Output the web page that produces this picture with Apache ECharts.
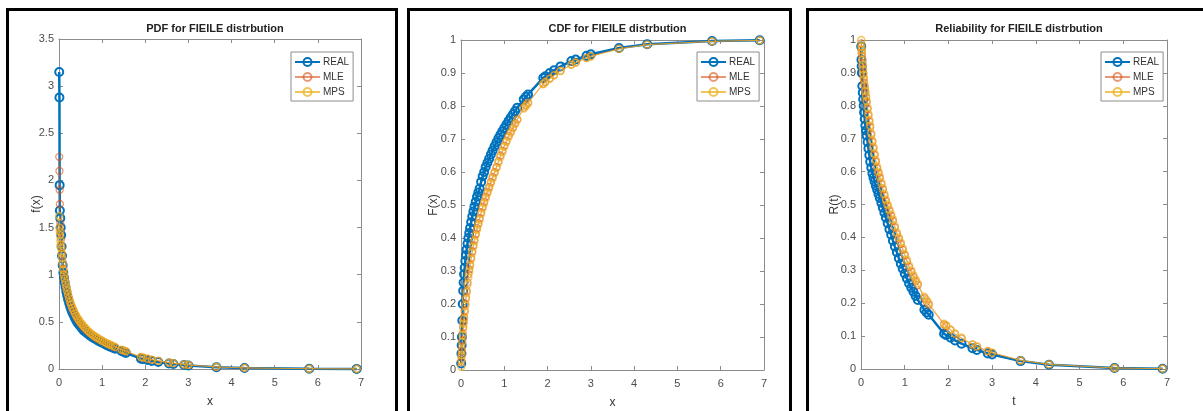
<!DOCTYPE html>
<html>
<head>
<meta charset="utf-8">
<script src="https://cdn.jsdelivr.net/npm/echarts@6/dist/echarts.min.js"></script>
<style>
html, body { margin: 0; padding: 0; background: #fff; }
#chart { width: 1203px; height: 411px; }
</style>
</head>
<body>
<div id="chart"></div>
<script>
// sample points (sorted), shared by all three panels
var xs = [0.005, 0.01, 0.015, 0.02, 0.03, 0.04, 0.05, 0.06, 0.07, 0.085,
  0.1, 0.115, 0.13, 0.15, 0.17, 0.19, 0.21, 0.235, 0.26, 0.285,
  0.31, 0.34, 0.37, 0.4, 0.43, 0.465, 0.5, 0.535, 0.57, 0.61,
  0.65, 0.69, 0.73, 0.775, 0.82, 0.865, 0.91, 0.955, 1.0, 1.05,
  1.1, 1.15, 1.2, 1.25, 1.3, 1.45, 1.5, 1.55, 1.9, 1.95,
  2.05, 2.15, 2.3, 2.55, 2.65, 2.9, 3.0, 3.65, 4.3, 5.8, 6.9];

// PDF
var pdfReal = [3.15, 2.88, 1.95, 1.68, 1.6, 1.5, 1.42, 1.3, 1.2, 1.1,
  1.02, 0.97, 0.92, 0.87, 0.82, 0.78, 0.74, 0.7, 0.66, 0.63,
  0.6, 0.57, 0.54, 0.515, 0.49, 0.47, 0.45, 0.43, 0.41, 0.395,
  0.38, 0.365, 0.35, 0.337, 0.325, 0.312, 0.3, 0.29, 0.28, 0.267,
  0.255, 0.245, 0.235, 0.225, 0.215, 0.19, 0.18, 0.17, 0.11, 0.105,
  0.095, 0.085, 0.075, 0.058, 0.053, 0.042, 0.037, 0.018, 0.01, 0.003, 0.001];
var pdfMle = [2.25, 2.1, 1.9, 1.75, 1.55, 1.46, 1.38, 1.3, 1.22, 1.13,
  1.06, 1.01, 0.96, 0.91, 0.86, 0.82, 0.78, 0.74, 0.7, 0.67,
  0.64, 0.61, 0.58, 0.555, 0.53, 0.507, 0.485, 0.465, 0.445, 0.427,
  0.41, 0.392, 0.375, 0.36, 0.345, 0.332, 0.32, 0.307, 0.295, 0.282,
  0.27, 0.26, 0.25, 0.24, 0.23, 0.2, 0.192, 0.185, 0.125, 0.119,
  0.108, 0.097, 0.085, 0.066, 0.06, 0.047, 0.042, 0.021, 0.011, 0.003, 0.001];
var pdfMps = [1.62, 1.5, 1.46, 1.42, 1.36, 1.32, 1.28, 1.23, 1.18, 1.11,
  1.05, 1.0, 0.96, 0.915, 0.87, 0.83, 0.79, 0.75, 0.71, 0.68,
  0.65, 0.62, 0.59, 0.565, 0.54, 0.517, 0.495, 0.475, 0.455, 0.435,
  0.415, 0.397, 0.38, 0.365, 0.35, 0.337, 0.325, 0.312, 0.3, 0.287,
  0.275, 0.265, 0.255, 0.245, 0.235, 0.205, 0.197, 0.19, 0.128, 0.122,
  0.11, 0.099, 0.087, 0.068, 0.062, 0.048, 0.043, 0.022, 0.012, 0.003, 0.001];

// CDF
var cdfReal = [0.02, 0.05, 0.075, 0.1, 0.15, 0.2, 0.24, 0.265, 0.29, 0.31,
  0.33, 0.348, 0.365, 0.383, 0.4, 0.415, 0.43, 0.448, 0.465, 0.48,
  0.495, 0.51, 0.525, 0.538, 0.55, 0.57, 0.587, 0.6, 0.615, 0.628,
  0.64, 0.653, 0.665, 0.678, 0.69, 0.702, 0.713, 0.723, 0.733, 0.744,
  0.755, 0.765, 0.775, 0.785, 0.795, 0.82, 0.828, 0.835, 0.885, 0.89,
  0.9, 0.908, 0.92, 0.936, 0.941, 0.952, 0.957, 0.976, 0.987, 0.997, 0.999];
var cdfMle = [0.025, 0.04, 0.055, 0.07, 0.09, 0.11, 0.13, 0.145, 0.16, 0.18,
  0.2, 0.22, 0.24, 0.265, 0.29, 0.305, 0.32, 0.34, 0.36, 0.378,
  0.395, 0.413, 0.43, 0.445, 0.46, 0.478, 0.495, 0.51, 0.525, 0.54,
  0.555, 0.57, 0.585, 0.6, 0.615, 0.633, 0.65, 0.665, 0.68, 0.695,
  0.71, 0.723, 0.735, 0.748, 0.76, 0.795, 0.803, 0.81, 0.868, 0.874,
  0.884, 0.894, 0.907, 0.926, 0.932, 0.946, 0.951, 0.974, 0.986, 0.996, 0.999];
var cdfMps = [0.01, 0.03, 0.045, 0.06, 0.085, 0.105, 0.125, 0.14, 0.155, 0.175,
  0.195, 0.215, 0.235, 0.258, 0.28, 0.298, 0.315, 0.335, 0.355, 0.373,
  0.39, 0.408, 0.425, 0.44, 0.455, 0.473, 0.49, 0.505, 0.52, 0.535,
  0.55, 0.565, 0.58, 0.596, 0.612, 0.628, 0.645, 0.66, 0.676, 0.691,
  0.706, 0.719, 0.732, 0.745, 0.757, 0.792, 0.8, 0.808, 0.866, 0.872,
  0.882, 0.893, 0.906, 0.925, 0.931, 0.945, 0.95, 0.973, 0.986, 0.996, 0.999];

// Reliability
var relReal = [0.98, 0.94, 0.92, 0.9, 0.86, 0.84, 0.82, 0.8, 0.78, 0.76,
  0.74, 0.725, 0.71, 0.69, 0.67, 0.65, 0.63, 0.612, 0.595, 0.582,
  0.57, 0.557, 0.545, 0.532, 0.52, 0.505, 0.49, 0.475, 0.46, 0.443,
  0.425, 0.408, 0.39, 0.372, 0.355, 0.337, 0.32, 0.305, 0.29, 0.275,
  0.26, 0.247, 0.235, 0.222, 0.21, 0.18, 0.172, 0.165, 0.107, 0.103,
  0.095, 0.087, 0.077, 0.063, 0.058, 0.047, 0.044, 0.024, 0.013, 0.003, 0.001];
var relMle = [0.99, 0.97, 0.96, 0.95, 0.93, 0.915, 0.9, 0.885, 0.87, 0.855,
  0.84, 0.825, 0.81, 0.79, 0.77, 0.752, 0.735, 0.712, 0.69, 0.67,
  0.65, 0.63, 0.61, 0.595, 0.58, 0.562, 0.545, 0.527, 0.51, 0.495,
  0.48, 0.465, 0.45, 0.43, 0.41, 0.395, 0.38, 0.362, 0.345, 0.327,
  0.31, 0.295, 0.28, 0.267, 0.255, 0.215, 0.205, 0.195, 0.135, 0.13,
  0.118, 0.106, 0.093, 0.074, 0.068, 0.054, 0.049, 0.026, 0.014, 0.003, 0.001];
var relMps = [1.0, 0.98, 0.97, 0.96, 0.94, 0.925, 0.91, 0.895, 0.88, 0.862,
  0.845, 0.83, 0.815, 0.795, 0.775, 0.757, 0.74, 0.717, 0.695, 0.675,
  0.655, 0.635, 0.615, 0.6, 0.585, 0.567, 0.55, 0.532, 0.515, 0.5,
  0.485, 0.47, 0.455, 0.435, 0.415, 0.4, 0.385, 0.367, 0.35, 0.332,
  0.315, 0.3, 0.285, 0.272, 0.26, 0.22, 0.21, 0.2, 0.138, 0.133,
  0.12, 0.108, 0.095, 0.075, 0.069, 0.055, 0.05, 0.026, 0.014, 0.003, 0.001];

var names = ["REAL", "MLE", "MPS"];
var colors = ["#0072BD", "rgba(217,83,25,0.6)", "rgba(237,177,32,0.75)"];

var font = "'Liberation Sans Narrow', 'Liberation Sans', Arial, sans-serif";
var axisColor = "#8c8c8c";
var labelColor = "#4d4d4d";

var panels = [
  { title: "PDF for FIEILE distrbution", yName: "f(x)", xName: "x", yMax: 3.5, yInt: 0.5,
    data: [pdfReal, pdfMle, pdfMps], left: 59, top: 39, width: 302, height: 330, legendLeft: 291, nameGap: 16 },
  { title: "CDF for FIEILE distrbution", yName: "F(x)", xName: "x", yMax: 1, yInt: 0.1,
    data: [cdfReal, cdfMle, cdfMps], left: 461, top: 40, width: 303, height: 330, legendLeft: 697, nameGap: 21 },
  { title: "Reliability for FIEILE distrbution", yName: "R(t)", xName: "t", yMax: 1, yInt: 0.1,
    data: [relReal, relMle, relMps], left: 861, top: 40, width: 306, height: 329, legendLeft: 1101, nameGap: 20 }
];

var chart = echarts.init(document.getElementById("chart"));

var option = {
  backgroundColor: "#fff",
  animation: false,
  title: [],
  legend: [],
  grid: [],
  xAxis: [],
  yAxis: [],
  series: [],
  graphic: [
    // outer frames round each figure
    { type: "rect", shape: { x: 7.5, y: 9.5, width: 389, height: 420 }, style: { fill: null, stroke: "#000", lineWidth: 3 } },
    { type: "rect", shape: { x: 408.5, y: 9.5, width: 382, height: 420 }, style: { fill: null, stroke: "#000", lineWidth: 3 } },
    { type: "rect", shape: { x: 807.5, y: 9.5, width: 420, height: 420 }, style: { fill: null, stroke: "#000", lineWidth: 3 } }
  ]
};

panels.forEach(function (p, g) {
  option.title.push({
    text: p.title,
    left: p.left + p.width / 2,
    top: 18,
    textAlign: "center",
    textStyle: { fontFamily: font, fontSize: 11, fontWeight: "bold", color: "#222" }
  });
  option.legend.push({
    data: names,
    orient: "vertical",
    left: p.legendLeft,
    top: 52,
    itemWidth: 25,
    itemHeight: 10,
    itemGap: 5,
    padding: [5, 4, 4, 3],
    borderColor: "#8c8c8c",
    borderWidth: 1,
    backgroundColor: "#fff",
    textStyle: { fontFamily: font, fontSize: 10, color: "#333", padding: [0, 0, 0, -2] }
  });
  option.grid.push({ left: p.left, top: p.top, width: p.width, height: p.height, show: false, outerBoundsMode: "none" });

  var tick = { show: true, inside: true, length: 4, lineStyle: { color: axisColor } };
  var line = { show: true, onZero: false, lineStyle: { color: axisColor, width: 1 } };
  var lab = { fontFamily: font, fontSize: 11, color: labelColor };

  option.xAxis.push({
    gridIndex: g, type: "value", min: 0, max: 7, interval: 1, position: "bottom",
    name: p.xName, nameLocation: "middle", nameGap: 27, nameMoveOverlap: false,
    nameTextStyle: { fontFamily: font, fontSize: 12, color: "#333" },
    axisLine: line, axisTick: tick, splitLine: { show: false },
    axisLabel: Object.assign({ margin: 8 }, lab)
  });
  option.xAxis.push({
    gridIndex: g, type: "value", min: 0, max: 7, interval: 1, position: "top",
    axisLine: line, axisTick: tick, splitLine: { show: false }, axisLabel: { show: false }
  });
  option.yAxis.push({
    gridIndex: g, type: "value", min: 0, max: p.yMax, interval: p.yInt, position: "left",
    name: p.yName, nameLocation: "middle", nameGap: p.nameGap, nameMoveOverlap: false,
    nameTextStyle: { fontFamily: font, fontSize: 12, color: "#333" },
    axisLine: line, axisTick: tick, splitLine: { show: false },
    axisLabel: Object.assign({ margin: 5 }, lab)
  });
  option.yAxis.push({
    gridIndex: g, type: "value", min: 0, max: p.yMax, interval: p.yInt, position: "right",
    axisLine: line, axisTick: tick, splitLine: { show: false }, axisLabel: { show: false }
  });

  p.data.forEach(function (vals, k) {
    var real = k === 0;
    option.series.push({
      name: names[k],
      type: "line",
      xAxisIndex: g * 2,
      yAxisIndex: g * 2,
      data: xs.map(function (x, i) { return [x, vals[i]]; }),
      symbol: "circle",
      symbolSize: real ? 8 : 7,
      clip: false,
      lineStyle: { color: colors[k], width: real ? 2.5 : 1 },
      itemStyle: { color: "rgba(0,0,0,0)", borderColor: colors[k], borderWidth: real ? 2 : 1.3 },
      emphasis: { disabled: true },
      z: 2 + k
    });
  });
});

chart.setOption(option);
</script>
</body>
</html>
